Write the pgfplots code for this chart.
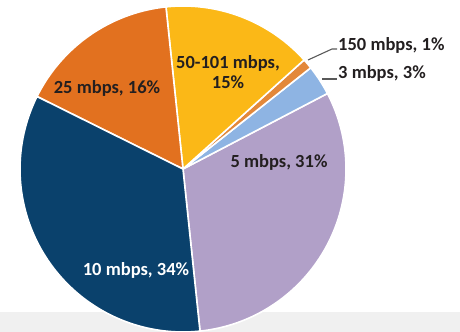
\documentclass[border=0pt]{standalone}
\usepackage{pgfplots}
\pgfplotsset{compat=1.18}
\usepackage{fontspec}
\setmainfont{Carlito}
\definecolor{c5}{HTML}{B1A0C8}
\definecolor{c3}{HTML}{8EB4E3}
\definecolor{c150}{HTML}{E3883A}
\definecolor{c50}{HTML}{FBB817}
\definecolor{c25}{HTML}{E2711F}
\definecolor{c10}{HTML}{0A416C}
\definecolor{txt}{HTML}{231F20}
\definecolor{band}{HTML}{F0F0F0}
\begin{document}
\begin{tikzpicture}
\begin{axis}[
  width=460bp, height=332bp, scale only axis,
  xmin=0, xmax=460, ymin=0, ymax=332,
  hide axis, clip=true,
]
\fill[band] (axis cs:0,0) rectangle (axis cs:460,20);
\def\cur{-84}
\pgfplotsforeachungrouped \v/\c in {31/c5,3/c3,1/c150,15/c50,16/c25,34/c10}{%
  \pgfmathsetmacro\a{\cur}%
  \pgfmathsetmacro\b{\cur+3.6*\v}%
  \edef\temp{\noexpand\addplot[fill=\c, draw=white, line width=1.6bp, line join=round, domain=\a:\b, samples=80, mark=none] ({183+163*cos(x)},{163+163*sin(x)}) -- (axis cs:183,163) -- cycle;}%
  \temp
  \global\let\cur\b
}
\draw[gray!70!black, line width=1.1bp] (axis cs:308,272) -- (axis cs:332,283) -- (axis cs:337,283);
\draw[gray!70!black, line width=1.1bp] (axis cs:322,253) -- (axis cs:337,253);
\begin{scope}[font=\fontsize{18.5bp}{20.5bp}\selectfont\bfseries]
\node[txt] at (axis cs:107,244) {25 mbps, 16\%};
\node[txt, align=center] at (axis cs:228,260) {50-101 mbps,\\15\%};
\node[txt] at (axis cs:279,170) {5 mbps, 31\%};
\node[white] at (axis cs:136,62) {10 mbps, 34\%};
\node[txt, anchor=west, inner sep=0pt] at (axis cs:338,287) {150 mbps, 1\%};
\node[txt, anchor=west, inner sep=0pt] at (axis cs:338,259) {3 mbps, 3\%};
\end{scope}
\end{axis}
\pgfresetboundingbox
\useasboundingbox (0,0) rectangle (460bp,332bp);
\end{tikzpicture}
\end{document}
